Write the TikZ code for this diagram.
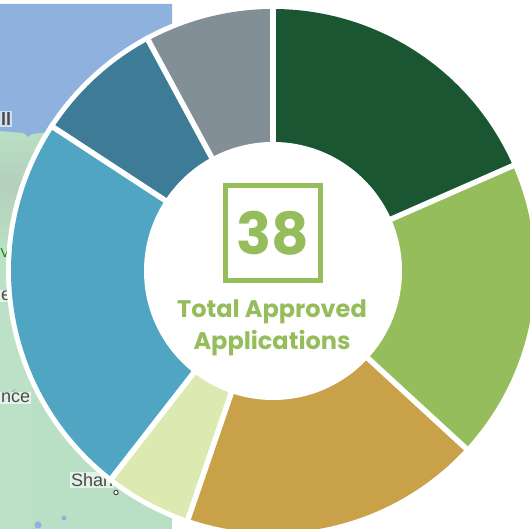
\documentclass[tikz,border=0pt]{standalone}
\usepackage{fontspec}
\setmainfont{Poppins}
\newfontfamily\mapfont{Liberation Sans}
\usetikzlibrary{calc}
\definecolor{cForest}{HTML}{1B5632}
\definecolor{cLeaf}{HTML}{95BD5C}
\definecolor{cGold}{HTML}{C8A148}
\definecolor{cPale}{HTML}{DCE9B0}
\definecolor{cSky}{HTML}{50A5C3}
\definecolor{cTeal}{HTML}{3E7B96}
\definecolor{cSlate}{HTML}{828F97}
\definecolor{cSea}{HTML}{8FB1DE}
\definecolor{cLand}{HTML}{B9E0C4}
\definecolor{cLandGrey}{HTML}{B5CFBB}
\definecolor{cMapText}{HTML}{4A4A4A}
\newcommand{\wedgeseg}[3]{%
  \fill[#3] (0,0) -- (#1:262) arc[start angle=#1,end angle=#2,radius=262] -- cycle;}
\tikzset{
  gapline/.style={draw=white,line width=5.5pt},
  maplabel/.style={font=\mapfont\fontsize{18}{18}\selectfont,text=cMapText,inner sep=1pt,fill=white,fill opacity=.6,text opacity=1},
  titletext/.style={font=\fontsize{24}{32}\selectfont\bfseries,text=cLeaf,align=center,inner sep=0pt}
}
\begin{document}
\begin{tikzpicture}[x=1pt,y=1pt]
\useasboundingbox (0,0) rectangle (530,529);
\fill[white] (0,0) rectangle (530,529);
% map background
\begin{scope}
\clip (0,0) rectangle (172,525);
\fill[cLand] (0,0) rectangle (172,525);
\shade[bottom color=cLand,top color=cLandGrey] (0,280) rectangle (60,345);
\shade[bottom color=cLandGrey,top color=cLand] (0,345) rectangle (60,398);
\fill[cLand!96!white] (0,0) rectangle (32,280);
\fill[cSea] (0,525) -- (172,525) -- (172,300) -- (50,397) -- (32,395) -- (28,392) -- (24,396) -- (0,398) -- cycle;
\draw[cSea,line width=.8pt] (4,128) -- (15,140);
\fill[cSea] (64,11) circle[radius=2.5];
\fill[cSea] (38,4) circle[radius=3.5];
\node[maplabel,anchor=west] (lblA) at (0,410) {\bfseries ll};
\node[maplabel,anchor=west] (lblB) at (0,233) {e};
\node[maplabel,anchor=west] (lblC) at (0,131) {nce};
\node[maplabel,anchor=west] (lblD) at (70,49) {Shan};
\node[text=green!50!black,font=\mapfont\fontsize{13}{13}\selectfont,inner sep=0pt] (lblE) at (5,276) {V};
\draw[cMapText,line width=1pt,fill=white] (116,36.5) circle[radius=2.2];
\end{scope}
\begin{scope}[shift={(273,258)}]
\fill[white] (0,0) circle[radius=267];
\wedgeseg{90}{23.7}{cForest}
\wedgeseg{23.7}{-42.6}{cLeaf}
\wedgeseg{-42.6}{-108.9}{cGold}
\wedgeseg{-108.9}{-127.9}{cPale}
\wedgeseg{-127.9}{-213.2}{cSky}
\wedgeseg{146.8}{118.4}{cTeal}
\wedgeseg{118.4}{90}{cSlate}
\foreach \a in {90,23.7,-42.6,-108.9,-127.9,146.8,118.4}
  \draw[gapline] (0,0) -- (\a:267);
\fill[white] (0,0) circle[radius=129];
\end{scope}
% centre
\node[draw=cLeaf,line width=5pt,minimum size=95pt,inner sep=0pt] (numbox) at (273,296) {};
\node[font=\fontsize{58}{58}\selectfont\bfseries,text=cLeaf,inner sep=0pt] (num) at (numbox.center) {38};
\node[titletext] (caption) at (272,201.5) {Total Approved\\Applications};
\end{tikzpicture}
\end{document}
